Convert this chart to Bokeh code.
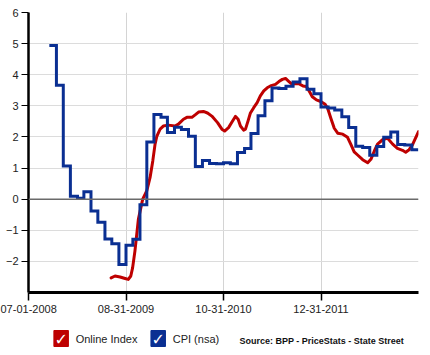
import pandas as pd
from bokeh.plotting import figure
from bokeh.layouts import column
from bokeh.models import Range1d, FixedTicker, DatetimeTickFormatter, Span
from bokeh.core.properties import value
from bokeh.embed import file_html
from bokeh.resources import INLINE

# ---- data ----
cpi_months = [
    "2008-09", "2008-10", "2008-11", "2008-12",
    "2009-01", "2009-02", "2009-03", "2009-04", "2009-05", "2009-06",
    "2009-07", "2009-08", "2009-09", "2009-10", "2009-11", "2009-12",
    "2010-01", "2010-02", "2010-03", "2010-04", "2010-05", "2010-06",
    "2010-07", "2010-08", "2010-09", "2010-10", "2010-11", "2010-12",
    "2011-01", "2011-02", "2011-03", "2011-04", "2011-05", "2011-06",
    "2011-07", "2011-08", "2011-09", "2011-10", "2011-11", "2011-12",
    "2012-01", "2012-02", "2012-03", "2012-04", "2012-05", "2012-06",
    "2012-07", "2012-08", "2012-09", "2012-10", "2012-11", "2012-12",
    "2013-01",
]
cpi_values = [
    4.94, 3.66, 1.07, 0.09,
    0.03, 0.24, -0.38, -0.74, -1.28, -1.43,
    -2.10, -1.48, -1.29, -0.18, 1.84, 2.72,
    2.63, 2.14, 2.31, 2.24, 2.02, 1.05,
    1.24, 1.15, 1.14, 1.17, 1.14, 1.50,
    1.63, 2.11, 2.68, 3.16, 3.57, 3.56,
    3.63, 3.77, 3.87, 3.53, 3.39, 2.96,
    2.93, 2.87, 2.65, 2.30, 1.70, 1.66,
    1.41, 1.69, 1.99, 2.16, 1.76, 1.74,
    1.59,
]

online_dates = [
    "2009-06-27", "2009-07-14", "2009-08-05", "2009-08-27", "2009-09-10",
    "2009-09-21", "2009-09-29", "2009-10-09", "2009-10-24", "2009-11-12",
    "2009-11-30", "2009-12-14", "2009-12-26", "2010-01-05", "2010-01-13",
    "2010-01-27", "2010-02-10", "2010-03-04", "2010-04-02", "2010-04-17",
    "2010-05-09", "2010-05-24", "2010-06-15", "2010-06-29", "2010-07-14",
    "2010-08-04", "2010-08-22", "2010-09-10", "2010-10-05", "2010-10-24",
    "2010-11-05", "2010-11-22", "2010-12-07", "2010-12-22", "2011-01-03",
    "2011-01-13", "2011-01-27", "2011-02-04", "2011-02-15", "2011-02-25",
    "2011-03-12", "2011-03-27", "2011-04-10", "2011-04-25", "2011-05-10",
    "2011-05-24", "2011-06-15", "2011-06-30", "2011-07-15", "2011-07-29",
    "2011-08-13", "2011-08-27", "2011-09-11", "2011-09-25", "2011-10-13",
    "2011-10-28", "2011-11-11", "2011-11-23", "2011-12-11", "2011-12-30",
    "2012-01-18", "2012-01-29", "2012-02-12", "2012-02-27", "2012-03-13",
    "2012-04-04", "2012-04-25", "2012-05-10", "2012-05-24", "2012-06-08",
    "2012-06-30", "2012-07-22", "2012-08-05", "2012-08-20", "2012-09-03",
    "2012-09-25", "2012-10-17", "2012-11-08", "2012-11-29", "2012-12-21",
    "2013-01-04", "2013-01-19", "2013-02-02", "2013-02-17", "2013-03-01",
]
online_values = [
    -2.53, -2.47, -2.50, -2.55, -2.58,
    -2.47, -2.20, -1.67, -0.65, 0.00,
    0.27, 0.69, 1.23, 1.77, 2.03,
    2.25, 2.35, 2.38, 2.35, 2.41,
    2.57, 2.63, 2.63, 2.71, 2.80,
    2.82, 2.77, 2.67, 2.46, 2.25,
    2.19, 2.30, 2.48, 2.66, 2.57,
    2.35, 2.22, 2.25, 2.51, 2.76,
    2.94, 3.10, 3.32, 3.48, 3.58,
    3.64, 3.69, 3.78, 3.85, 3.88,
    3.78, 3.69, 3.72, 3.71, 3.64,
    3.62, 3.45, 3.29, 3.19, 3.14,
    3.05, 2.92, 2.60, 2.28, 2.12,
    2.09, 1.99, 1.75, 1.52, 1.42,
    1.27, 1.17, 1.28, 1.55, 1.77,
    1.91, 1.96, 1.77, 1.63, 1.57,
    1.51, 1.59, 1.74, 1.98, 2.17,
]

x_tick_dates = ["2008-07-01", "2009-08-31", "2010-10-31", "2011-12-31"]
y_ticks = [-2, -1, 0, 1, 2, 3, 4, 5, 6]
legend_labels = ["Online Index", "CPI (nsa)"]
source_text = "Source: BPP - PriceStats - State Street"

RED = "#BE0000"
BLUE = "#0A2F92"
FONT = "Liberation Sans"

# ---- CPI step path: each month's value held from its month end to the next ----
cpi_x, cpi_y = [], []
for m, v in zip(cpi_months, cpi_values):
    start = pd.Timestamp(m + "-01") + pd.offsets.MonthEnd(0)
    end = start + pd.offsets.MonthEnd(1)
    cpi_x += [start, end]
    cpi_y += [v, v]

# ---- main figure ----
p = figure(width=430, height=320, x_axis_type="datetime",
           output_backend="svg", toolbar_location=None,
           x_range=Range1d(pd.Timestamp("2008-07-01"), pd.Timestamp("2013-03-01")),
           y_range=Range1d(-3, 6),
           min_border_left=28, min_border_right=12, min_border_top=12, min_border_bottom=28)
p.outline_line_color = None
p.background_fill_color = "white"
p.border_fill_color = "white"

tick_ms = [pd.Timestamp(d).timestamp() * 1000 for d in x_tick_dates]
p.xaxis.ticker = FixedTicker(ticks=tick_ms)
fmt = "%m-%d-%Y"
p.xaxis.formatter = DatetimeTickFormatter(
    microseconds=fmt, milliseconds=fmt, seconds=fmt, minsec=fmt, minutes=fmt,
    hourmin=fmt, hours=fmt, days=fmt, months=fmt, years=fmt,
    strip_leading_zeros=False, context=None)
p.yaxis.ticker = FixedTicker(ticks=y_ticks)

for ax in (p.xaxis[0], p.yaxis[0]):
    ax.axis_line_color = "black"
    ax.major_tick_line_color = "black"
    ax.major_tick_in = 0
    ax.minor_tick_line_color = None
    ax.major_label_text_font = FONT
    ax.major_label_text_font_size = "11px"
    ax.major_label_text_color = "#222222"
p.xaxis.axis_line_width = 3
p.yaxis.axis_line_width = 2.5
p.xaxis.major_tick_out = 8
p.xaxis.major_tick_line_width = 1.5
p.yaxis.major_tick_out = 7
p.yaxis.major_label_standoff = 3
p.xaxis.major_label_standoff = 4

p.xgrid.grid_line_color = "#d4d4d4"
p.ygrid.grid_line_color = "#dcdcdc"
p.xgrid.grid_line_width = 1
p.ygrid.grid_line_width = 1

p.add_layout(Span(location=0, dimension="width", line_color="#6a6a6a", line_width=1.5))

p.line(x=pd.to_datetime(online_dates), y=online_values, line_color=RED,
       line_width=3, line_join="round", line_cap="round")
p.line(x=cpi_x, y=cpi_y, line_color=BLUE, line_width=3, line_join="miter")

# ---- legend strip ----
lg = figure(width=430, height=35, output_backend="svg", toolbar_location=None,
            x_range=Range1d(0, 430), y_range=Range1d(35, 0),
            min_border_left=0, min_border_right=0, min_border_top=0, min_border_bottom=0)
lg.axis.visible = False
lg.grid.visible = False
lg.outline_line_color = None

box_x = [36, 143]
lbl_x = [52, 159]
colors = [RED, BLUE]
lg.rect(x=box_x, y=[18, 18], width=16, height=16, fill_color=colors, line_color=colors)
lg.text(x=box_x, y=[18.5, 18.5], text=["\u2713", "\u2713"], text_color="white",
        text_align="center", text_baseline="middle", text_font=value("DejaVu Sans"),
        text_font_size="16px", text_font_style="bold")
lg.text(x=lbl_x, y=[18, 18], text=legend_labels, text_color="#222222",
        text_align="left", text_baseline="middle", text_font=value(FONT),
        text_font_size="11px")
lg.text(x=[414], y=[20], text=[source_text], text_color="#111111",
        text_align="right", text_baseline="middle", text_font=value(FONT),
        text_font_size="9px", text_font_style="bold")

layout = column(p, lg, spacing=0)
open("out.html", "w").write(file_html(layout, INLINE))
